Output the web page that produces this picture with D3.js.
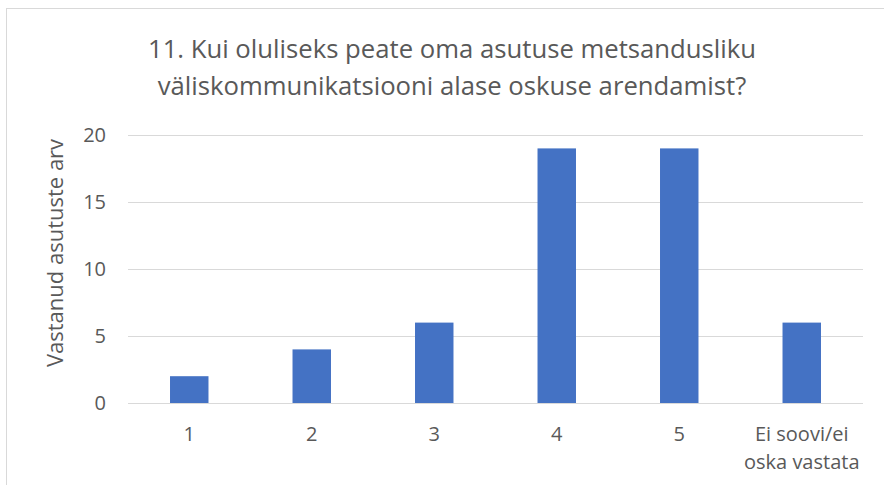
<!DOCTYPE html>
<html>
<head>
<meta charset="utf-8">
<script src="https://cdn.jsdelivr.net/npm/d3@7"></script>
<style>
  body { margin: 0; background: #fff; }
  text { font-family: 'Open Sans', sans-serif; fill: #595959; }
</style>
</head>
<body>
<div class="chart"></div>
<script>
const categories = ['1', '2', '3', '4', '5', 'Ei soovi/ei oska vastata'];
const counts = [2, 4, 6, 19, 19, 6];
const yTicks = [0, 5, 10, 15, 20];
const titleLines = ['11. Kui oluliseks peate oma asutuse metsandusliku', 'väliskommunikatsiooni alase oskuse arendamist?'];
const yLabel = 'Vastanud asutuste arv';

const W = 884, H = 485;
const margin = { top: 135, right: 21, bottom: 82, left: 128 };
const width = W - margin.left - margin.right;
const height = H - margin.top - margin.bottom;

const svg = d3.select('.chart').append('svg')
    .attr('width', W)
    .attr('height', H);

// outer chart border (runs off the right/bottom edge)
svg.append('rect')
  .attr('x', 6.5).attr('y', 8.5)
  .attr('width', W + 20).attr('height', H + 20)
  .attr('fill', 'none')
  .attr('stroke', '#d9d9d9');

const g = svg.append('g')
    .attr('transform', `translate(${margin.left}, ${margin.top})`);

const x = d3.scaleBand().domain(categories).range([0, width]).paddingInner(0.686).paddingOuter(0.343);
const y = d3.scaleLinear().domain([0, 20]).range([height, 0]);

// gridlines
g.selectAll('.grid')
    .data(yTicks)
  .enter().append('line')
    .attr('x1', 0).attr('x2', width)
    .attr('y1', d => Math.round(y(d)) + 0.5)
    .attr('y2', d => Math.round(y(d)) + 0.5)
    .attr('stroke', '#d9d9d9')
    .attr('stroke-width', 1);

g.selectAll('.bar')
    .data(counts)
  .enter().append('rect')
    .attr('x', (d, i) => x(categories[i]))
    .attr('width', x.bandwidth())
    .attr('y', d => y(d))
    .attr('height', d => height - y(d))
    .attr('fill', '#4472c4');

// y axis tick labels
const yAxis = g.append('g')
    .call(d3.axisLeft(y).tickValues(yTicks).tickSize(0).tickPadding(22));
yAxis.select('.domain').remove();
yAxis.selectAll('text')
    .style('font-size', '20px')
    .style('font-family', "'Open Sans', sans-serif")
    .attr('fill', '#595959');

// x axis labels
const xAxis = g.append('g')
    .attr('transform', `translate(0, ${height})`)
    .call(d3.axisBottom(x).tickSize(0).tickPadding(24));
xAxis.select('.domain').remove();
xAxis.selectAll('text')
    .style('font-size', '20px')
    .style('font-family', "'Open Sans', sans-serif")
    .attr('fill', '#595959')
    .each(function(d) {
      if (d.length > 8) {
        const t = d3.select(this);
        t.text(null);
        t.append('tspan').attr('x', 0).attr('dy', '0.71em').text('Ei soovi/ei');
        t.append('tspan').attr('x', 0).attr('dy', '1.4em').text('oska vastata');
      }
    });

// title
svg.append('text')
    .attr('x', 452)
    .attr('y', 58)
    .attr('text-anchor', 'middle')
    .style('font-size', '25.7px')
  .selectAll('tspan')
    .data(titleLines)
  .enter().append('tspan')
    .attr('x', 452)
    .attr('dy', (d, i) => i === 0 ? 0 : 37)
    .text(d => d);

// y label
svg.append('text')
    .attr('transform', 'translate(63, 253) rotate(-90)')
    .attr('text-anchor', 'middle')
    .style('font-size', '22px')
    .text(yLabel);
</script>
</body>
</html>
